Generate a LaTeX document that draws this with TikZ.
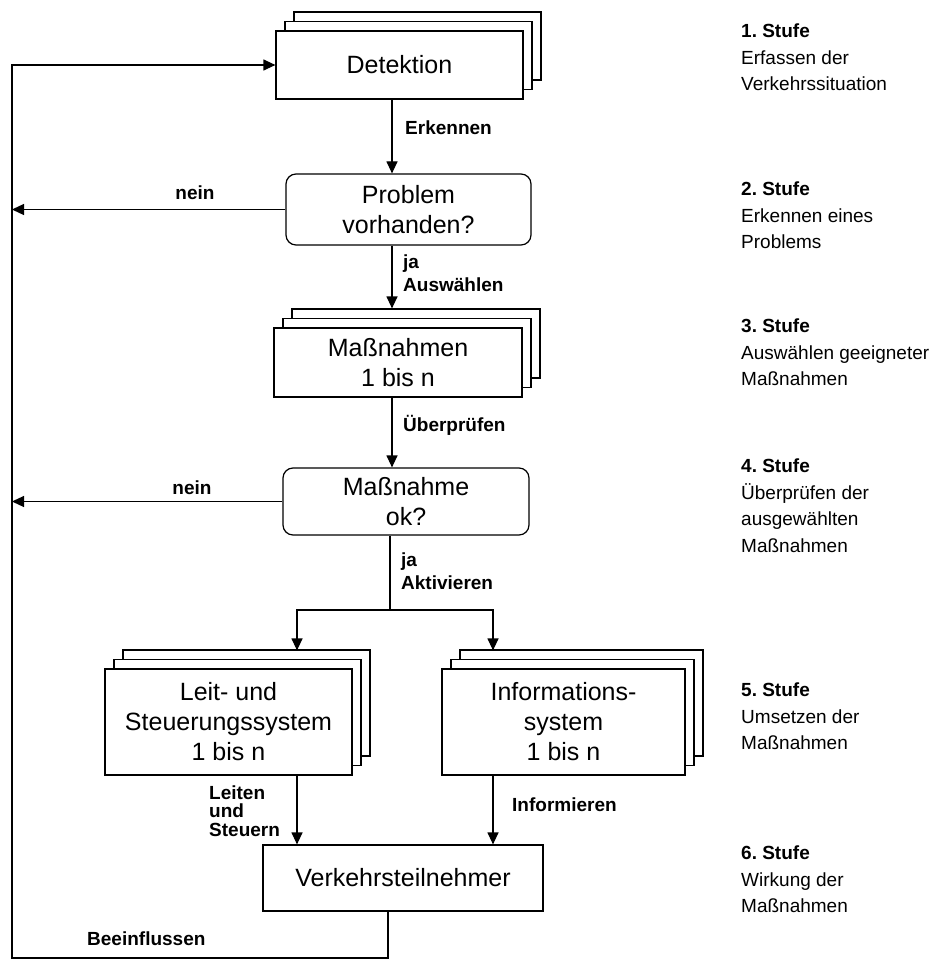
\documentclass[tikz,border=0pt]{standalone}
\usepackage{fontspec}
\setmainfont{Liberation Sans}
\usetikzlibrary{arrows.meta, shadows, calc}
\frenchspacing
\tikzset{
    box/.style={rectangle, draw=black, line width=1.2pt, fill=white, align=center, font=\fontsize{25}{30}\selectfont, inner sep=0pt},
    stackbox/.style={box, copy shadow={shadow xshift=18pt, shadow yshift=19pt}, copy shadow={shadow xshift=9pt, shadow yshift=9.5pt}},
    query/.style={box, rounded corners=10pt},
    conn/.style={line width=1.2pt, black},
    arr/.style={conn, -{Triangle[length=12pt, width=11pt]}},
    lbl/.style={font=\fontsize{19}{23}\selectfont\bfseries, align=left, inner sep=0pt, anchor=west},
    stage/.style={font=\fontsize{19}{26.5}\selectfont, align=left, inner sep=0pt, anchor=north west}
}

\begin{document}
\begin{tikzpicture}[x=1pt, y=-1pt]
    \useasboundingbox (0,0) rectangle (935,960);
    \node[stackbox, minimum width=247pt, minimum height=68pt] (det) at (399.5,65) {Detektion};
    \node[query, minimum width=245pt, minimum height=71pt] (prob) at (408.5,209.5) {Problem\\vorhanden?};
    \node[stackbox, minimum width=248pt, minimum height=69pt] (mass) at (398,362.5) {Maßnahmen\\1 bis n};
    \node[query, minimum width=246pt, minimum height=67pt] (ok) at (406,501.5) {Maßnahme\\ok?};
    \node[stackbox, minimum width=247pt, minimum height=106pt] (leit) at (228.5,722) {Leit- und\\Steuerungssystem\\1 bis n};
    \node[stackbox, minimum width=243pt, minimum height=106pt] (info) at (563.5,722) {Informations-\\system\\1 bis n};
    \node[box, minimum width=280pt, minimum height=66pt] (vt) at (403,878) {Verkehrsteilnehmer};
    % Stufen rechts
    \node[stage] (s1) at (741,24) {\textbf{1. Stufe}\\Erfassen der\\Verkehrssituation};
    \node[stage] (s2) at (741,182) {\textbf{2. Stufe}\\Erkennen eines\\Problems};
    \node[stage] (s3) at (741,319) {\textbf{3. Stufe}\\Auswählen geeigneter\\Maßnahmen};
    \node[stage] (s4) at (741,459) {\textbf{4. Stufe}\\Überprüfen der\\ausgewählten\\Maßnahmen};
    \node[stage] (s5) at (741,683) {\textbf{5. Stufe}\\Umsetzen der\\Maßnahmen};
    \node[stage] (s6) at (741,846) {\textbf{6. Stufe}\\Wirkung der\\Maßnahmen};
    % Beschriftungen
    \node[lbl] (erk) at (405,128) {Erkennen};
    \node[lbl] (ausw) at (403,273.5) {ja\\Auswählen};
    \node[lbl] (ueb) at (403,425) {Überprüfen};
    \node[lbl] (akt) at (401,571.5) {ja\\Aktivieren};
    \node[lbl, font=\fontsize{19}{18.5}\selectfont\bfseries] (lst) at (209,811) {Leiten\\und\\Steuern};
    \node[lbl] (inf) at (512,805) {Informieren};
    \node[lbl] (bee) at (87,939) {Beeinflussen};
    \node[lbl, anchor=center] (nein1) at (195,193) {nein};
    \node[lbl, anchor=center] (nein2) at (192,488) {nein};
    \coordinate (ax) at (392,0);
    \coordinate (lx) at (297,0);
    \coordinate (ix) at (493,0);
    \coordinate (bx) at (388,0);
    \coordinate (splt) at (390,610);
    \coordinate (lb) at (12,958);
    \draw[arr] (det.south -| ax) -- (prob.north -| ax);
    \draw[arr, shorten >=19pt] (prob.south -| ax) -- (mass.north -| ax);
    \draw[arr] (mass.south -| ax) -- (ok.north -| ax);
    \draw[conn] (ok.south -| splt) -- (splt);
    \draw[arr, shorten >=18pt] (splt) -| (leit.north -| lx);
    \draw[arr, shorten >=18pt] (splt) -| (info.north -| ix);
    \draw[arr] (leit.south -| lx) -- (vt.north -| lx);
    \draw[arr] (info.south -| ix) -- (vt.north -| ix);
    \draw[arr] (vt.south -| bx) |- (lb) |- (det.west);
    \draw[arr] (prob.west) -- (prob.west -| lb);
    \draw[arr] (ok.west) -- (ok.west -| lb);
\end{tikzpicture}
\end{document}
